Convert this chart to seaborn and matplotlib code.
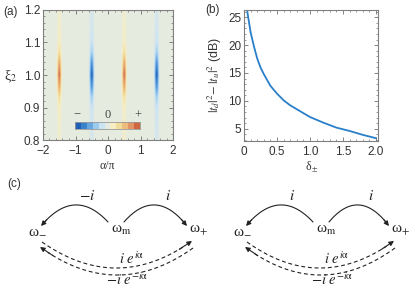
import numpy as np
import pandas as pd
import seaborn as sns
import matplotlib.pyplot as plt
from matplotlib.colors import LinearSegmentedColormap, ListedColormap
from matplotlib.ticker import MultipleLocator

sns.set_theme(style="ticks")
plt.rcParams['font.family'] = ['Liberation Sans', 'DejaVu Sans']
plt.rcParams['mathtext.fontset'] = 'stix'

# ---- data ----
# (a) stripes
stripe_alpha = [-1.5, -0.5, 0.5, 1.5]
stripe_sign = [1, -1, 1, -1]
xi_grid = [0.8, 0.85, 0.9, 0.93, 0.96, 1.0, 1.04, 1.07, 1.1, 1.15, 1.2]
xi_profile = [0.14, 0.16, 0.22, 0.38, 0.70, 1.0, 0.70, 0.38, 0.22, 0.16, 0.14]
off_grid = [-0.1, -0.06, -0.03, 0.0, 0.03, 0.06, 0.1]
off_profile = [0.0, 0.35, 0.8, 1.0, 0.8, 0.35, 0.0]

cbar_colors = ['#1f5fb5', '#3b82cc', '#6aa7e0', '#9ccbee', '#cbe4f3', '#e6ebe1',
               '#f6eec2', '#f2dc9c', '#eebd7e', '#e3956a', '#d0663f']

# (b) curve
delta = [0.05, 0.1, 0.15, 0.2, 0.25, 0.3, 0.4, 0.5, 0.6, 0.7, 0.8, 0.9, 1.0,
         1.2, 1.4, 1.6, 1.8, 2.0]
gain_db = [26.0, 22.3, 19.8, 17.6, 16.0, 14.8, 12.7, 11.3, 10.1, 9.2, 8.5, 7.8,
           7.1, 6.1, 5.2, 4.6, 3.9, 3.3]

W, H = 416, 305
fig = plt.figure(figsize=(W / 100, H / 100), dpi=100)


def px_axes(l, t, r, b):
    return fig.add_axes([l / W, 1 - b / H, (r - l) / W, (b - t) / H])


def style_frame(ax):
    for s in ax.spines.values():
        s.set_color('#808080')
        s.set_linewidth(0.8)
    ax.tick_params(which='both', direction='in', top=True, right=True,
                   colors='#707070', labelcolor='#333333', labelsize=8.5, pad=2)
    ax.tick_params(axis='x', which='both', pad=3.5)
    ax.tick_params(which='major', length=3, width=0.6)
    ax.tick_params(which='minor', length=1.6, width=0.5)


# ---- panel (a) ----
ax_a = px_axes(43, 10, 173, 140)
alpha = np.linspace(-2, 2, 801)
xi = np.linspace(0.8, 1.2, 201)
field = np.zeros((len(xi), len(alpha)))
prof_xi = np.interp(xi, xi_grid, xi_profile)
for c, s in zip(stripe_alpha, stripe_sign):
    prof_a = np.interp(alpha - c, off_grid, off_profile)
    field += s * np.outer(prof_xi, prof_a)
cmap = LinearSegmentedColormap.from_list('temp', cbar_colors)
ax_a.imshow(field, extent=[-2, 2, 0.8, 1.2], origin='lower', aspect='auto',
            cmap=cmap, vmin=-1, vmax=1, interpolation='bilinear')
ax_a.set_xlim(-2, 2)
ax_a.set_ylim(0.8, 1.2)
ax_a.set_xticks([-2, -1, 0, 1, 2])
ax_a.set_xticklabels(['\u22122', '\u22121', '0', '1', '2'])
ax_a.set_yticks([0.8, 0.9, 1.0, 1.1, 1.2])
ax_a.xaxis.set_minor_locator(MultipleLocator(0.2))
ax_a.yaxis.set_minor_locator(MultipleLocator(0.02))
style_frame(ax_a)

cax = ax_a.inset_axes([0.245, 0.085, 0.5, 0.055])
cax.imshow(np.arange(11)[None, :], cmap=ListedColormap(cbar_colors), aspect='auto')
cax.set_xticks([])
cax.set_yticks([])
for s in cax.spines.values():
    s.set_color('#999999')
    s.set_linewidth(0.6)
for x, t in [(0.26, '\u2212'), (0.495, '0'), (0.73, '+')]:
    ax_a.text(x, 0.19, t, transform=ax_a.transAxes, ha='center', va='center',
              fontsize=9, color='#444444', family='Liberation Serif')

# ---- panel (b) ----
ax_b = px_axes(244, 10, 378, 141)
df = pd.DataFrame({'delta': delta, 'gain': gain_db})
sns.lineplot(data=df, x='delta', y='gain', ax=ax_b, color='#2a7fc9', lw=1.3)
ax_b.set_xlim(0, 2.03)
ax_b.set_ylim(2.8, 26.3)
ax_b.set_xticks([0, 0.5, 1.0, 1.5, 2.0])
ax_b.set_xticklabels(['0', '0.5', '1.0', '1.5', '2.0'])
ax_b.set_yticks([5, 10, 15, 20, 25])
ax_b.xaxis.set_minor_locator(MultipleLocator(0.1))
ax_b.yaxis.set_minor_locator(MultipleLocator(1))
ax_b.set_xlabel('')
ax_b.set_ylabel('')
style_frame(ax_b)

# ---- labels ----
ax_c = fig.add_axes([0, 0, 1, 1])
ax_c.set_xlim(0, W)
ax_c.set_ylim(H, 0)
ax_c.axis('off')
ax_c.patch.set_alpha(0)

serif = 'Liberation Serif'
tc = '#222222'
ax_c.text(11, 12, '(a)', ha='center', va='center', fontsize=8.5, color='#333333')
ax_c.text(213, 10, '(b)', ha='center', va='center', fontsize=8.5, color='#333333')
ax_c.text(14, 184, '(c)', ha='center', va='center', fontsize=8.5, color='#333333')
ax_c.text(11, 77, '\u03be$_2$', ha='center', va='center', fontsize=10, family=serif, color='#333333')
ax_c.text(107, 166, '\u03b1/\u03c0', ha='center', va='center', fontsize=8.5, family=serif, color='#333333')
ax_c.text(312, 167, '\u03b4$_\\pm$', ha='center', va='center', fontsize=8.5, family=serif, color='#333333')
ax_c.text(215, 75, '$|t_d|^2\\!-|t_u|^2$ (dB)', ha='center', va='center', rotation=90,
          fontsize=9, color='#333333')


def bezier(p0, p1, peak_y):
    cx = (p0[0] + p1[0]) / 2
    cy = 2 * peak_y - (p0[1] + p1[1]) / 2
    t = np.linspace(0, 1, 60)[:, None]
    pts = (1 - t) ** 2 * np.array(p0) + 2 * (1 - t) * t * np.array([cx, cy]) + t ** 2 * np.array(p1)
    return pts


def arc(p0, p1, peak_y, dashed):
    pts = bezier(p0, p1, peak_y)
    ax_c.plot(pts[:-3, 0], pts[:-3, 1], color=tc, lw=0.8,
              ls=(0, (3.5, 2.5)) if dashed else '-')
    ax_c.annotate('', xy=pts[-1], xytext=pts[-6],
                  arrowprops=dict(arrowstyle='-|>', color=tc, lw=0.8,
                                  mutation_scale=7, shrinkA=0, shrinkB=0))


def diagram(x0, xm, xp, lab_l, lab_r):
    y = 230
    ax_c.text(x0, y, '\u03c9$_{-}$', ha='center', va='center', fontsize=11, family=serif, color=tc)
    ax_c.text(xm, y, '\u03c9$_\\mathrm{m}$', ha='center', va='center', fontsize=11, family=serif, color=tc)
    ax_c.text(xp, y, '\u03c9$_{+}$', ha='center', va='center', fontsize=11, family=serif, color=tc)
    arc((xm - 13, 222), (x0 + 4, 226), 205, False)
    arc((xm + 3, 222), (xp - 12, 226), 205, False)
    arc((x0 + 5, 242), (xp - 7, 241), 268, True)
    arc((xp - 6, 248), (x0 + 3, 247), 275, True)
    mid = (x0 + xm) / 2 + 8
    ax_c.text(mid, 196, lab_l, ha='center', va='center', fontsize=11, color=tc)
    ax_c.text((xm + xp) / 2 + 8, 196, lab_r, ha='center', va='center', fontsize=11, color=tc)
    ax_c.text(xm + 11, 259, '$i\\ e^{i\\mathrm{\u03b1}}$', ha='center', va='center', fontsize=10.5, color=tc)
    ax_c.text(xm + 6, 280, '$-i\\ e^{-i\\mathrm{\u03b1}}$', ha='center', va='center', fontsize=10.5, color=tc)


diagram(37, 121, 199, '$-i$', '$i$')
diagram(242, 326, 401, '$i$', '$i$')

fig.savefig('out.png', dpi=100)
